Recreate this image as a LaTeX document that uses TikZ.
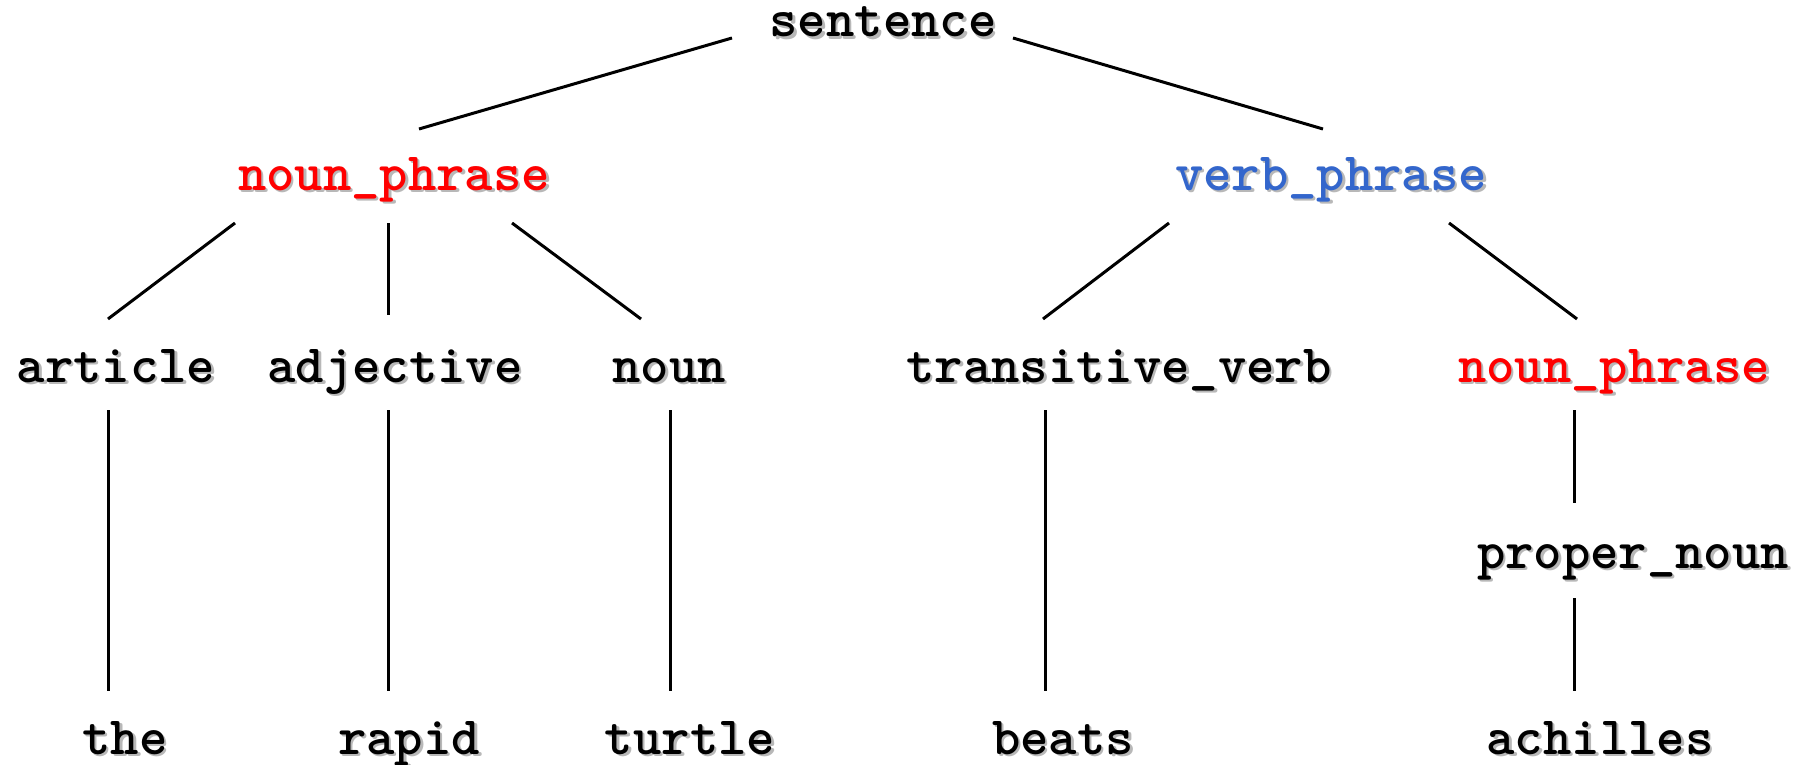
\documentclass[tikz,border=0pt]{standalone}
\usepackage{fontspec}
\definecolor{shadowgray}{HTML}{B8B8B8}
\definecolor{npred}{HTML}{FF0000}
\definecolor{vpblue}{HTML}{3366CC}
\newcommand\shtxt[1]{\makebox[0pt][l]{\hspace{2.5pt}\raisebox{-2.5pt}{\textcolor{shadowgray}{#1}}}#1}
\tikzset{
  word/.style={anchor=base, inner sep=0pt, text=black,
    font=\ttfamily\bfseries\fontsize{54}{64}\selectfont\addfontfeature{FakeBold=0.8}},
  branch/.style={line width=3pt, black}
}
\begin{document}
\begin{tikzpicture}[x=1pt,y=-1pt]
\useasboundingbox[fill=white] (0,0) rectangle (1818,765);
% nodes
\node[word] (sentence) at (883,37) {\shtxt{sentence}};
\node[word,text=npred] (np1) at (394,190) {\shtxt{noun\_phrase}};
\node[word,text=vpblue] (vp) at (1331,190) {\shtxt{verb\_phrase}};
\node[word] (art) at (116,382) {\shtxt{article}};
\node[word] (adj) at (395,382) {\shtxt{adjective}};
\node[word] (noun) at (669,382) {\shtxt{noun}};
\node[word] (tv) at (1119,382) {\shtxt{transitive\_verb}};
\node[word,text=npred] (np2) at (1614,382) {\shtxt{noun\_phrase}};
\node[word] (pn) at (1633,568) {\shtxt{proper\_noun}};
\node[word] (the) at (125,754) {\shtxt{the}};
\node[word] (rapid) at (409,754) {\shtxt{rapid}};
\node[word] (turtle) at (690,754) {\shtxt{turtle}};
\node[word] (beats) at (1063,754) {\shtxt{beats}};
\node[word] (achilles) at (1600,754) {\shtxt{achilles}};
% connector end points
\coordinate (s-l) at (732,38);   \coordinate (np1-t) at (419,129);
\coordinate (s-r) at (1013,38);  \coordinate (vp-t) at (1323,129);
\coordinate (np1-l) at (235,223); \coordinate (art-t) at (108,319);
\coordinate (np1-m) at (388,223); \coordinate (adj-t) at (388,315);
\coordinate (np1-r) at (512,223); \coordinate (noun-t) at (641,319);
\coordinate (vp-l) at (1169,223); \coordinate (tv-t) at (1043,319);
\coordinate (vp-r) at (1449,223); \coordinate (np2-t) at (1577,319);
\coordinate (art-b) at (108,410); \coordinate (the-t) at (108,691);
\coordinate (adj-b) at (388,410); \coordinate (rapid-t) at (388,691);
\coordinate (noun-b) at (670,410); \coordinate (turtle-t) at (670,691);
\coordinate (tv-b) at (1045,410); \coordinate (beats-t) at (1045,691);
\coordinate (np2-b) at (1574,410); \coordinate (pn-t) at (1574,503);
\coordinate (pn-b) at (1574,598); \coordinate (ach-t) at (1574,691);
% connectors
\draw[branch] (s-l) -- (np1-t);
\draw[branch] (s-r) -- (vp-t);
\draw[branch] (np1-l) -- (art-t);
\draw[branch] (np1-m) -- (adj-t);
\draw[branch] (np1-r) -- (noun-t);
\draw[branch] (vp-l) -- (tv-t);
\draw[branch] (vp-r) -- (np2-t);
\draw[branch] (art-b) -- (the-t);
\draw[branch] (adj-b) -- (rapid-t);
\draw[branch] (noun-b) -- (turtle-t);
\draw[branch] (tv-b) -- (beats-t);
\draw[branch] (np2-b) -- (pn-t);
\draw[branch] (pn-b) -- (ach-t);
\end{tikzpicture}
\end{document}
